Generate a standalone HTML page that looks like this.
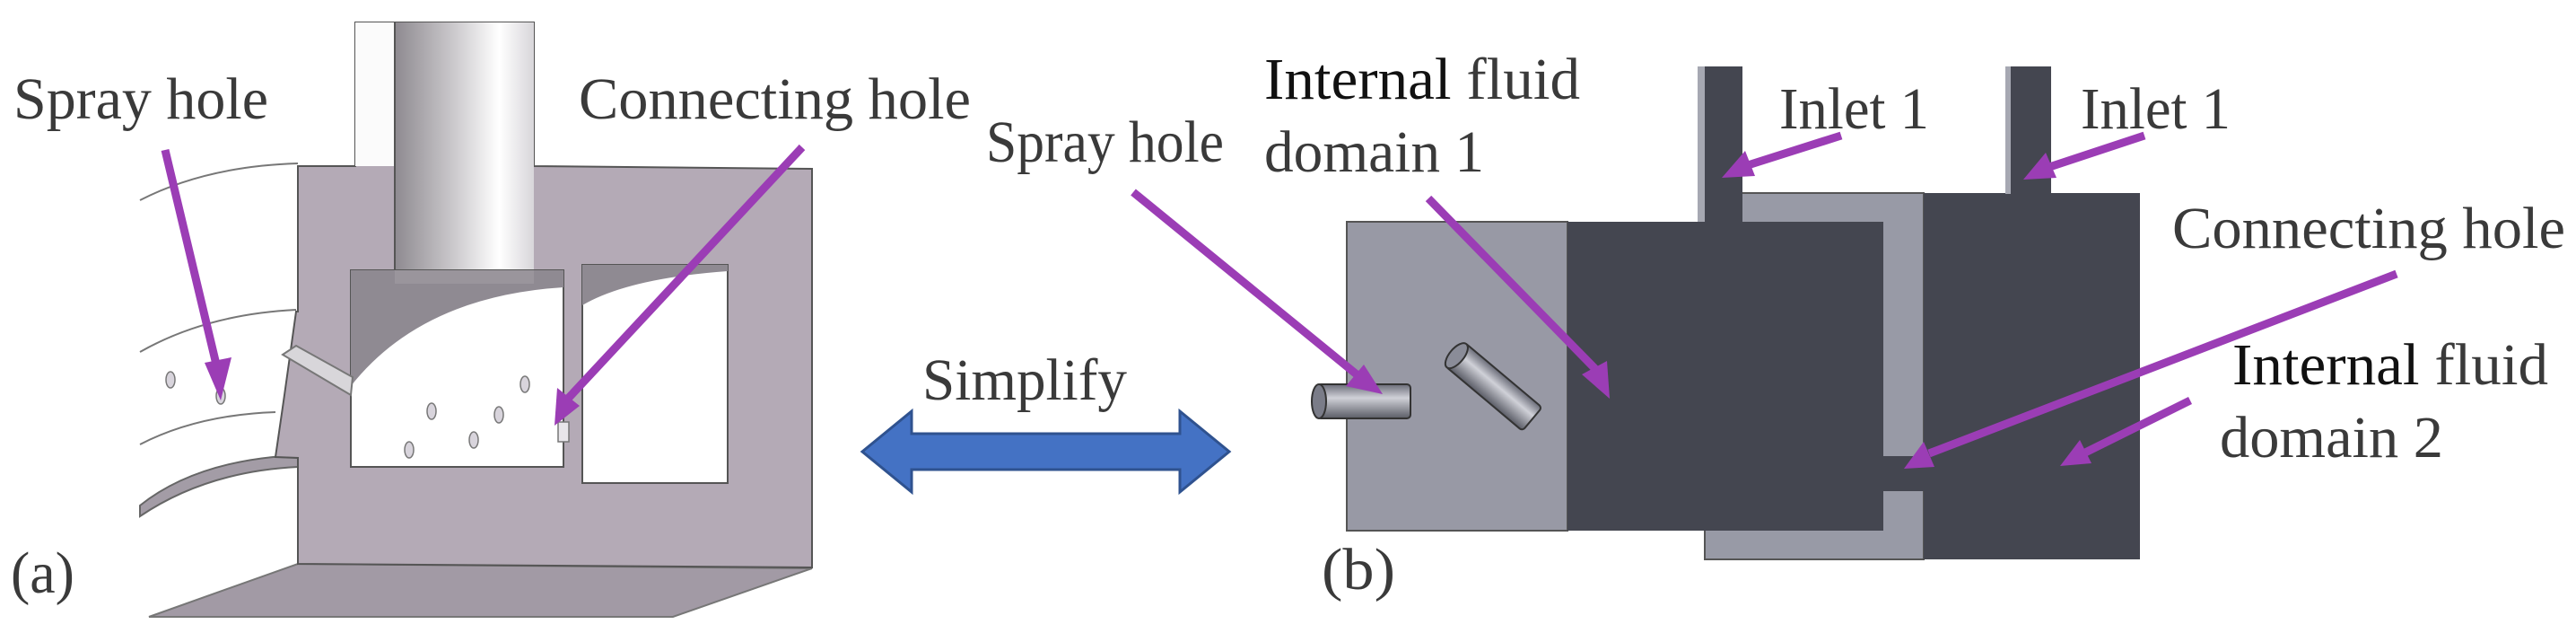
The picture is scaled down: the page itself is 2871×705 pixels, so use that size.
<!DOCTYPE html>
<html><head><meta charset="utf-8"><style>
html,body{margin:0;padding:0;background:#fff;}
svg{display:block;}
text{font-family:"Liberation Serif",serif;font-size:66px;fill:#3a3a3a;}
</style></head><body>
<svg width="2871" height="705" viewBox="0 0 2871 705" xmlns="http://www.w3.org/2000/svg">
<defs>
<linearGradient id="pipe" x1="0" x2="1" y1="0" y2="0">
<stop offset="0" stop-color="#8e8a90"/><stop offset="0.45" stop-color="#cfcdd0"/><stop offset="0.75" stop-color="#ffffff"/><stop offset="1" stop-color="#d8d6da"/>
</linearGradient>
<linearGradient id="cyl" x1="0" x2="0" y1="0" y2="1">
<stop offset="0" stop-color="#6a6c78"/><stop offset="0.4" stop-color="#d0d1d8"/><stop offset="1" stop-color="#5a5c66"/>
</linearGradient>
</defs>

<!-- LEFT FIGURE -->
<g fill="none" stroke="#777" stroke-width="2">
<path d="M156,223 Q230,185 332,182"/>
<path d="M156,392 Q230,350 330,345"/>
<path d="M156,495 Q220,462 307,459"/>
</g>
<path d="M156,563 Q220,512 332,507 L332,520 Q230,525 156,575 Z" fill="#a39ca6" stroke="#666" stroke-width="2"/>
<!-- base -->
<polygon points="332,628 905,633 750,687 166,687" fill="#a29aa5" stroke="#777" stroke-width="2"/>
<!-- body -->
<path d="M332,185 L396,185 L396,25 L595,25 L595,185 L905,188 L905,632 L332,628 L332,510 L307,509 L317,440 L330,347 L332,347 Z" fill="#b4aab6" stroke="#555" stroke-width="2"/>
<!-- pipe -->
<rect x="396" y="25" width="44" height="160" fill="#fbfbfb"/>
<rect x="440" y="25" width="155" height="290" fill="url(#pipe)"/>
<line x1="440" y1="25" x2="440" y2="315" stroke="#555" stroke-width="2"/>
<!-- cavity1 -->
<rect x="391" y="301" width="237" height="219" fill="#fff" stroke="#555" stroke-width="2"/>
<path d="M391,301 L628,301 L628,320 Q470,330 391,430 Z" fill="#8f8a92"/>
<rect x="440" y="301" width="155" height="15" fill="#9a959c"/>
<!-- cavity2 -->
<rect x="649" y="295" width="162" height="243" fill="#fff" stroke="#555" stroke-width="2"/>
<path d="M649,295 L811,295 L811,302 Q700,310 649,340 Z" fill="#8f8a92"/>
<!-- spray channel -->
<polygon points="315,395 330,385 393,420 391,440" fill="#d8d6da" stroke="#777" stroke-width="2"/>
<!-- connecting hole -->
<rect x="622" y="470" width="12" height="22" fill="#e8e6ea" stroke="#777" stroke-width="1.5"/>
<!-- small holes -->
<g fill="#d8d4dc" stroke="#777" stroke-width="1.5">
<ellipse cx="190" cy="423" rx="5" ry="9"/>
<ellipse cx="246" cy="441" rx="5" ry="9"/>
<ellipse cx="585" cy="428" rx="5" ry="9"/>
<ellipse cx="481" cy="458" rx="5" ry="9"/>
<ellipse cx="556" cy="462" rx="5" ry="9"/>
<ellipse cx="456" cy="501" rx="5" ry="9"/>
<ellipse cx="528" cy="490" rx="5" ry="9"/>
</g>

<!-- RIGHT FIGURE -->
<rect x="1900" y="215" width="244" height="408" fill="#989aa6" stroke="#555" stroke-width="2"/>
<rect x="1501" y="247" width="246" height="344" fill="#9899a5" stroke="#555" stroke-width="2"/>
<rect x="1747" y="247" width="352" height="344" fill="#444650"/>
<rect x="1892" y="74" width="50" height="175" fill="#444650"/>
<rect x="1892" y="74" width="8" height="173" fill="#a6a8b2"/>
<rect x="2144" y="215" width="241" height="408" fill="#444650"/>
<rect x="2235" y="74" width="51" height="142" fill="#444650"/>
<rect x="2235" y="74" width="6" height="142" fill="#a6a8b2"/>
<rect x="2099" y="508" width="45" height="39" fill="#444650"/>
<!-- cylinders -->
<g stroke="#333" stroke-width="2">
<rect x="1468" y="428" width="104" height="38" rx="4" fill="url(#cyl)"/>
<ellipse cx="1470" cy="447" rx="8" ry="19" fill="#7a7c88"/>
<g transform="translate(1628,400) rotate(40)">
<rect x="-8" y="-17" width="112" height="34" rx="4" fill="url(#cyl)"/>
<ellipse cx="-6" cy="0" rx="8" ry="17" fill="#8a8c98"/>
</g>
</g>

<!-- purple arrows -->
<g stroke="#9b3db5" stroke-width="9" fill="#9b3db5" stroke-linecap="butt">
<line x1="184" y1="167" x2="242" y2="410"/><polygon points="246,446 228,404 258,398" stroke="none"/>
<line x1="894" y1="164" x2="632" y2="445"/><polygon points="618,474 621,432 646,452" stroke="none"/>
<line x1="1263" y1="214" x2="1512" y2="417"/><polygon points="1541,439 1500,430 1520,406" stroke="none"/>
<line x1="1592" y1="221" x2="1780" y2="413"/><polygon points="1794,444 1763,417 1791,402" stroke="none"/>
<line x1="2052" y1="151" x2="1948" y2="184"/><polygon points="1919,198 1945,168 1956,196" stroke="none"/>
<line x1="2390" y1="151" x2="2284" y2="186"/><polygon points="2255,200 2280,170 2292,198" stroke="none"/>
<line x1="2671" y1="305" x2="2150" y2="505"/><polygon points="2122,522 2144,492 2156,520" stroke="none"/>
<line x1="2441" y1="446" x2="2322" y2="505"/><polygon points="2296,519 2318,490 2331,516" stroke="none"/>
</g>

<!-- blue double arrow -->
<polygon points="961,503 1016,458 1016,483 1315,483 1315,458 1370,503 1315,548 1315,523 1016,523 1016,548" fill="#4472c4" stroke="#2f528f" stroke-width="3"/>

<!-- texts -->
<text x="15" y="132" textLength="284" lengthAdjust="spacingAndGlyphs">Spray hole</text>
<text x="645" y="132" textLength="437" lengthAdjust="spacingAndGlyphs">Connecting hole</text>
<text x="12" y="660" textLength="71" lengthAdjust="spacingAndGlyphs">(a)</text>
<text x="1028" y="445" textLength="228" lengthAdjust="spacingAndGlyphs">Simplify</text>
<text x="1099" y="180" textLength="265" lengthAdjust="spacingAndGlyphs">Spray hole</text>
<text x="1409" y="110" textLength="352" lengthAdjust="spacingAndGlyphs"><tspan fill="#111">Internal</tspan> fluid</text>
<text x="1409" y="191" textLength="245" lengthAdjust="spacingAndGlyphs">domain 1</text>
<text x="1983" y="143" textLength="167" lengthAdjust="spacingAndGlyphs">Inlet 1</text>
<text x="2319" y="143" textLength="167" lengthAdjust="spacingAndGlyphs">Inlet 1</text>
<text x="2421" y="276" textLength="438" lengthAdjust="spacingAndGlyphs">Connecting hole</text>
<text x="2488" y="428" textLength="352" lengthAdjust="spacingAndGlyphs"><tspan fill="#111">Internal</tspan> fluid</text>
<text x="2474" y="509" textLength="249" lengthAdjust="spacingAndGlyphs">domain 2</text>
<text x="1473" y="656" textLength="82" lengthAdjust="spacingAndGlyphs">(b)</text>
</svg>
</body></html>
